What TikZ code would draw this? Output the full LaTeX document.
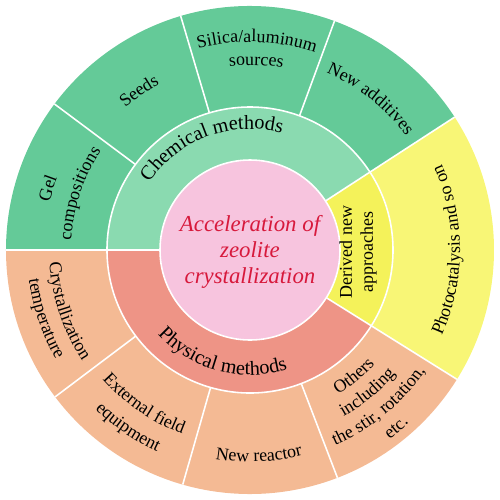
\documentclass[tikz,border=0pt]{standalone}
\usepackage{fontspec}
\setmainfont{Liberation Serif}
\usetikzlibrary{decorations.text}
\definecolor{chemout}{RGB}{100,202,152}
\definecolor{chemmid}{RGB}{138,218,176}
\definecolor{physout}{RGB}{244,186,148}
\definecolor{physmid}{RGB}{238,148,134}
\definecolor{derout}{RGB}{248,246,118}
\definecolor{dermid}{RGB}{244,242,90}
\definecolor{centre}{RGB}{247,196,222}
\definecolor{accent}{RGB}{215,25,60}
\newcommand\lblfont{\fontsize{10.2}{12}\selectfont}
\newcommand\ringfont{\fontsize{11.5}{13}\selectfont}

\begin{document}
\begin{tikzpicture}[
  sep/.style={draw=white, line width=0.9pt},
  outlbl/.style={decorate, decoration={text along path, text align=center, text={|\lblfont|#1}}},
  ringlbl/.style={decorate, decoration={text along path, text align=center, text={|\ringfont|#1}}}]
\useasboundingbox (-5,-4.98) rectangle (5,5);
% outer ring
\fill[chemout] (0,0) -- (33:4.88) arc[start angle=33, end angle=180, radius=4.88] -- cycle;
\fill[physout] (0,0) -- (180:4.88) arc[start angle=180, end angle=328, radius=4.88] -- cycle;
\fill[derout] (0,0) -- (-32:4.88) arc[start angle=-32, end angle=33, radius=4.88] -- cycle;
% middle ring
\fill[chemmid] (0,0) -- (33:2.86) arc[start angle=33, end angle=180, radius=2.86] -- cycle;
\fill[physmid] (0,0) -- (180:2.86) arc[start angle=180, end angle=328, radius=2.86] -- cycle;
\fill[dermid] (0,0) -- (-32:2.86) arc[start angle=-32, end angle=33, radius=2.86] -- cycle;
\fill[centre] (0,0) circle (1.8);
% separators
\draw[sep] (0,0) circle (2.86);
\draw[sep] (0,0) circle (1.8);
\foreach \a in {33,180,328} \draw[sep] (\a:1.8) -- (\a:4.88);
\foreach \a in {69.75,106.5,143.25,217,254,291} \draw[sep] (\a:2.86) -- (\a:4.88);

\node[text=accent, font=\fontsize{13}{14.7}\selectfont\itshape, align=center] (core) at (0,-0.04) {Acceleration of\\zeolite\\crystallization};
\node[rotate=90, font=\lblfont, align=center] (derived) at (2.16,-0.04) {Derived new\\approaches};

% chemical side
\path[ringlbl=Chemical methods] (170.5:2.42) arc[start angle=170.5, end angle=50.5, radius=2.42];
\path[outlbl=Gel] (208:4.12) arc[start angle=208, end angle=118, radius=4.12];
\path[outlbl=compositions] (206.6:3.58) arc[start angle=206.6, end angle=116.6, radius=3.58];
\path[outlbl=Seeds] (169.9:3.78) arc[start angle=169.9, end angle=79.9, radius=3.78];
\path[outlbl=Silica/aluminum] (133.1:4.16) arc[start angle=133.1, end angle=43.1, radius=4.16];
\path[outlbl=sources] (133.1:3.70) arc[start angle=133.1, end angle=43.1, radius=3.70];
\path[outlbl=New additives] (96.4:3.86) arc[start angle=96.4, end angle=6.4, radius=3.86];
% physical side
\path[ringlbl=Physical methods] (195:2.5) arc[start angle=195, end angle=315, radius=2.5];
\path[outlbl=Crystallization] (153.5:4.02) arc[start angle=153.5, end angle=243.5, radius=4.02];
\path[outlbl=temperature] (153.5:4.46) arc[start angle=153.5, end angle=243.5, radius=4.46];
\path[outlbl=External field] (190.5:3.92) arc[start angle=190.5, end angle=280.5, radius=3.92];
\path[outlbl=equipment] (190.5:4.44) arc[start angle=190.5, end angle=280.5, radius=4.44];
\path[outlbl=New reactor] (227.5:4.24) arc[start angle=227.5, end angle=317.5, radius=4.24];
\path[outlbl=Others] (264.5:3.38) arc[start angle=264.5, end angle=354.5, radius=3.38];
\path[outlbl=including] (264.5:3.82) arc[start angle=264.5, end angle=354.5, radius=3.82];
\path[outlbl={the stir, rotation,}] (264.5:4.26) arc[start angle=264.5, end angle=354.5, radius=4.26];
\path[outlbl=etc.] (264.5:4.70) arc[start angle=264.5, end angle=354.5, radius=4.70];
% derived side
\path[outlbl=Photocatalysis and so on] (-45:4.2) arc[start angle=-45, end angle=45, radius=4.2];
\end{tikzpicture}
\end{document}
